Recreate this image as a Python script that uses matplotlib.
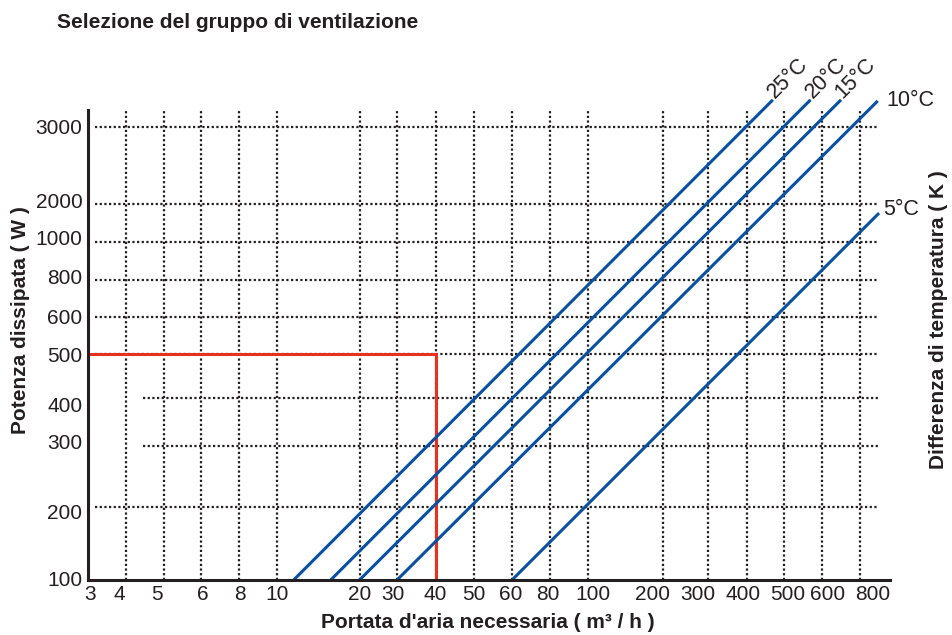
import numpy as np
import matplotlib
matplotlib.use("Agg")
import matplotlib.pyplot as plt
from matplotlib.ticker import NullLocator
from matplotlib.transforms import ScaledTranslation

plt.rcParams['font.family'] = ['Liberation Sans', 'DejaVu Sans']

# ---------------- data ----------------
flow_ticks = [3, 4, 5, 6, 8, 10, 20, 30, 40, 50, 60, 80, 100, 200, 300, 400, 500, 600, 800]
power_ticks = [100, 200, 300, 400, 500, 600, 800, 1000, 2000, 3000]
dt_labels = ['25°C', '20°C', '15°C', '10°C', '5°C']
flow_start = [11.5, 15.7, 20, 30, 60]          # m3/h at the start of each line
power_start = [100, 100, 100, 100, 100]        # W
flow_end = [468, 568, 693, 915, 924]           # m3/h at the end of each line
power_end = [3450, 3450, 3450, 3430, 1690]     # W
sel_flow = 40
sel_power = 500

# ---------------- layout (non-uniform chart scale) ----------------
W, H = 952, 635
flow_px = [88, 126, 163.5, 201, 239, 277, 359.5, 397, 435.5, 473.5, 512, 549.5,
           587.5, 663, 708, 746.5, 784, 822, 860]
power_py = [580, 506.5, 445.5, 397.5, 354, 317, 280, 241.5, 204, 126.5]
# small hand-placement offsets of the printed tick labels (pixels)
flow_lab_dx = [2, -7, -6.5, 1.5, 1, 0, 0, -4, 0, 0, -1, -1.5, 5, -10, -10, -3.5, 4, 6, 13]
power_lab_dy = [-1, 5, -4, 7, 0, 0, -4, -4, -4, 0]
ax_l, ax_r, ax_t, ax_b = 88, 890, 110, 580


def make_scale(vals, pos):
    lv = np.log(np.asarray(vals, float))
    p = np.asarray(pos, float)
    s0 = (p[1] - p[0]) / (lv[1] - lv[0])
    s1 = (p[-1] - p[-2]) / (lv[-1] - lv[-2])

    def fwd(v):
        v = np.asarray(v, float)
        l = np.log(np.clip(v, 1e-9, None))
        out = np.interp(l, lv, p)
        out = np.where(l < lv[0], p[0] + (l - lv[0]) * s0, out)
        out = np.where(l > lv[-1], p[-1] + (l - lv[-1]) * s1, out)
        return out

    def inv(q):
        q = np.asarray(q, float)
        out = np.interp(q, p, lv)
        out = np.where(q < p[0], lv[0] + (q - p[0]) / s0, out)
        out = np.where(q > p[-1], lv[-1] + (q - p[-1]) / s1, out)
        return np.exp(out)
    return fwd, inv


fx, ix = make_scale(flow_ticks, flow_px)
fy, iy = make_scale(power_ticks, [H - y for y in power_py])

ink = '#231f20'
blue = '#0a50a0'
red = '#e5321f'

fig = plt.figure(figsize=(W / 100, H / 100), dpi=100)
ax = fig.add_axes([ax_l / W, (H - ax_b) / H, (ax_r - ax_l) / W, (ax_b - ax_t) / H])
ax.set_xscale('function', functions=(fx, ix))
ax.set_yscale('function', functions=(fy, iy))
ax.set_xlim(float(ix(ax_l)), float(ix(ax_r)))
ax.set_ylim(float(iy(H - ax_b)), float(iy(H - ax_t)))

# grid
dot = dict(color=ink, lw=1.6, ls=(0, (1, 1.1)), zorder=1)
for v in flow_ticks[1:]:
    ax.axvline(v, **dot)
x_end = (878 - ax_l) / (ax_r - ax_l)
for v in power_ticks[1:]:
    start = 143 if v in (300, 400) else 95
    ax.axhline(v, xmin=(start - ax_l) / (ax_r - ax_l), xmax=x_end, **dot)

# selection (red)
ax.plot([flow_ticks[0], sel_flow, sel_flow], [sel_power, sel_power, power_ticks[0]],
        color=red, lw=2.2, zorder=3, solid_joinstyle='miter')

# temperature lines
tfs = 15.5
for lab, x0, y0, x1, y1 in zip(dt_labels, flow_start, power_start, flow_end, power_end):
    ax.plot([x0, x1], [y0, y1], color=blue, lw=2.2, clip_on=False, zorder=4,
            solid_capstyle='butt')
    if lab in ('25°C', '20°C', '15°C'):
        ax.annotate(lab, (x1, y1), xytext=(-1.5, 3.5), textcoords='offset points',
                    rotation=45, rotation_mode='anchor', ha='left', va='center',
                    fontsize=tfs, color=ink, annotation_clip=False)
    elif lab == '10°C':
        ax.annotate(lab, (x1, y1), xytext=(6.5, 0.5), textcoords='offset points',
                    ha='left', va='center', fontsize=tfs, color=ink, annotation_clip=False)
    else:
        ax.annotate(lab, (x1, y1), xytext=(2.7, 2.9), textcoords='offset points',
                    ha='left', va='center', fontsize=tfs, color=ink, annotation_clip=False)

# axes styling
for s in ('top', 'right'):
    ax.spines[s].set_visible(False)
for s in ('left', 'bottom'):
    ax.spines[s].set_linewidth(2.2)
    ax.spines[s].set_color(ink)
    ax.spines[s].set_zorder(5)

ax.set_xticks(flow_ticks)
ax.set_xticklabels([str(v) for v in flow_ticks])
ax.set_yticks(power_ticks)
ax.set_yticklabels([str(v) for v in power_ticks])
ax.xaxis.set_minor_locator(NullLocator())
ax.yaxis.set_minor_locator(NullLocator())
ax.tick_params(axis='both', length=0, labelsize=15, colors=ink)
ax.tick_params(axis='x', pad=3.5)
ax.tick_params(axis='y', pad=4)

for lbl, dx in zip(ax.get_xticklabels(), flow_lab_dx):
    lbl.set_transform(lbl.get_transform() + ScaledTranslation(dx / 100, 0, fig.dpi_scale_trans))
for lbl, dy in zip(ax.get_yticklabels(), power_lab_dy):
    lbl.set_transform(lbl.get_transform() + ScaledTranslation(0, -dy / 100, fig.dpi_scale_trans))

fig.text(57 / W, 1 - 22 / H, 'Selezione del gruppo di ventilazione', ha='left', va='center',
         fontsize=15, fontweight='bold', color=ink)
fig.text(488 / W, 1 - 623 / H, "Portata d'aria necessaria ( m³ / h )", ha='center', va='center',
         fontsize=15, fontweight='bold', color=ink)
fig.text(21 / W, 1 - 320 / H, 'Potenza dissipata ( W )', ha='center', va='center',
         rotation=90, fontsize=15, fontweight='bold', color=ink)
fig.text(939 / W, 1 - 320 / H, 'Differenza di temperatura ( K )', ha='center', va='center',
         rotation=90, fontsize=15, fontweight='bold', color=ink)

fig.savefig('out.png', dpi=100)
